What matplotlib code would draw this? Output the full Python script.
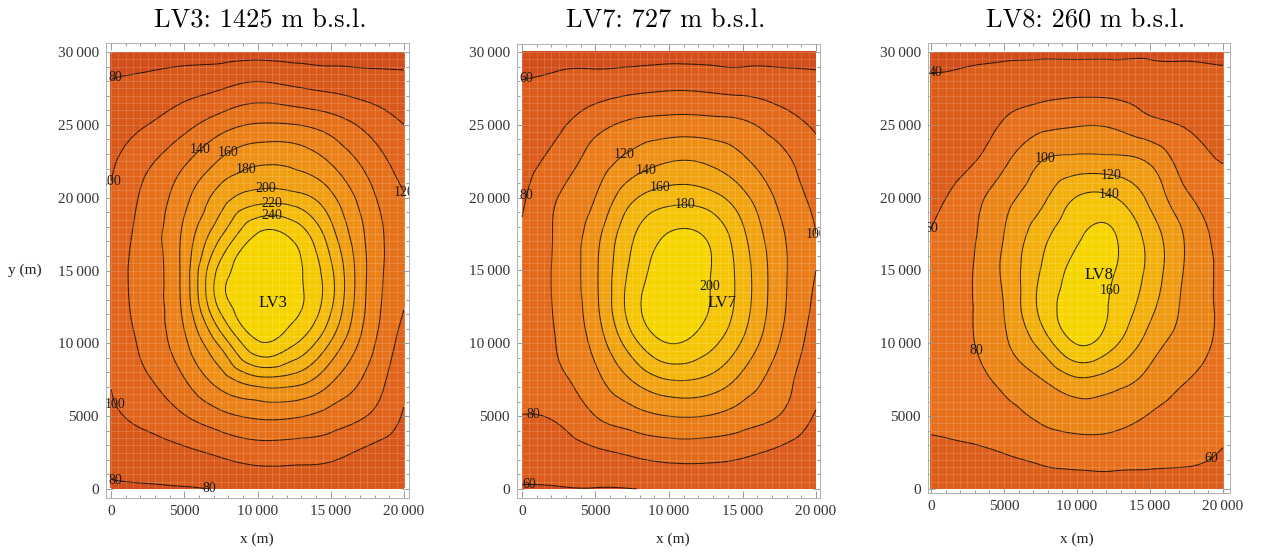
import numpy as np
import matplotlib
matplotlib.use("Agg")
import matplotlib.pyplot as plt
import matplotlib.tri as mtri
from matplotlib.colors import LinearSegmentedColormap

# ---------------- data (temperature fields) -------------
x_m = [0, 2500, 5000, 7500, 10000, 12500, 15000, 17500, 20000]
y_m = [0, 2500, 5000, 7500, 10000, 12500, 15000, 17500, 20000, 22500, 25000, 27500, 30000]

# rows follow y_m (bottom -> top), columns follow x_m
T_LV3 = [
    [77, 78, 79, 81, 84, 85, 84, 82, 81],
    [88, 91.5, 96, 103.5, 109.7, 109, 106, 96, 91],
    [97, 106, 119, 134, 143, 142, 132, 119.6, 98],
    [101, 118.4, 139, 170, 193, 190, 163.6, 135.3, 106],
    [105.5, 125.9, 155.8, 206, 257, 242, 198, 148.9, 112],
    [107, 129.8, 166, 246, 266, 264, 223, 157, 120.5],
    [107.7, 130.7, 168, 248, 267, 265, 224, 159, 125],
    [106, 129.7, 164.7, 217, 261, 254, 208, 156.5, 124],
    [102, 125.6, 153.9, 190.3, 210, 207.9, 185, 147.9, 121],
    [96.6, 116.5, 137, 162.4, 176.5, 174.6, 158.2, 133.4, 111],
    [89, 100, 114, 131.3, 141.6, 140.5, 130.8, 114.9, 100],
    [82, 86.3, 92.5, 99, 106.4, 101.7, 96.4, 91, 86.7],
    [72, 72, 72, 72, 72, 72, 72, 73, 74],
]

T_LV7 = [
    [58.5, 59, 59.5, 59.8, 61, 62, 61, 60.5, 60],
    [69.3, 71.3, 76.6, 83, 88, 88, 84, 76, 68],
    [79.7, 82.8, 100, 111.7, 120, 119.7, 110.2, 99.5, 78],
    [84, 96, 114.7, 141, 160, 156.5, 134.2, 109.8, 88],
    [86, 101.2, 127.1, 172.3, 200, 188.3, 157.7, 120, 92],
    [87, 103.1, 135.3, 190.4, 212, 202, 170, 126.5, 96],
    [86, 103.8, 136.6, 185.6, 209, 203, 170.7, 127.5, 100],
    [82, 103.5, 132.7, 177.2, 201, 198, 164, 124.5, 100],
    [77.2, 100.5, 120.3, 156.2, 171.6, 168.9, 146.2, 116.1, 95],
    [71.9, 88.6, 109.1, 127.5, 139.3, 137.8, 123.5, 106.7, 87],
    [66.6, 76.7, 93.3, 104.5, 108.6, 108.3, 103.9, 90.6, 77.2],
    [61.3, 65, 70.3, 75, 78, 77, 74, 70, 65.5],
    [56, 55, 53, 52, 52, 52, 53, 54, 55],
]

T_LV8 = [
    [52, 52, 52, 52, 52, 52, 52, 52, 53],
    [57.5, 58.2, 60.3, 65.5, 69, 69.1, 66.4, 64.7, 59],
    [62, 65, 72.7, 83.2, 89.8, 87.4, 78.9, 73.4, 66],
    [64, 72, 85.5, 99, 116.8, 109.3, 93.5, 80.5, 70],
    [66, 77, 96.8, 126.3, 161, 144.3, 110.5, 90.9, 75],
    [67, 78, 100.4, 144.3, 170, 156.6, 126, 95, 76],
    [67, 77.3, 103.6, 140.3, 166, 161, 134.1, 97.3, 76],
    [60.7, 74.8, 100, 131.7, 156.8, 161, 131.5, 97.2, 70],
    [56, 69.8, 92.5, 114.4, 141, 141, 115.5, 83.5, 65],
    [51.1, 57, 76, 99.5, 106.5, 106.2, 97.6, 69.9, 59.6],
    [47, 51.2, 61.9, 74.2, 78.8, 77.3, 66, 58.8, 52.4],
    [42.9, 44.7, 49.1, 52.9, 54.3, 53.6, 49.9, 47.9, 45.2],
    [36, 37, 37, 37, 37, 37, 37, 37, 37],
]

titles = ["LV3: 1425 m b.s.l.", "LV7: 727 m b.s.l.", "LV8: 260 m b.s.l."]
well_names = ["LV3", "LV7", "LV8"]
well_x = [11080, 13580, 11500]
well_y = [12750, 12750, 14700]

levels_LV3 = [80, 100, 120, 140, 160, 180, 200, 220, 240, 260]
levels_LV7 = [60, 80, 100, 120, 140, 160, 180, 200]
levels_LV8 = [40, 60, 80, 100, 120, 140, 160]

# (level, x, y) for the in-plot contour labels
label_pos_LV3 = [(80, 300, 28200), (100, 250, 20800), (120, 19900, 20100), (140, 6000, 23500),
                 (160, 8000, 23000), (180, 9200, 22000), (200, 10500, 20800),
                 (220, 11000, 19300), (240, 11000, 18000), (100, 300, 5800),
                 (80, 300, 400), (80, 7300, 100)]
label_pos_LV7 = [(60, 300, 28100), (80, 800, 20000), (120, 7000, 22900), (140, 8500, 21800),
                 (160, 9400, 20600), (180, 11100, 19300), (200, 13000, 13900),
                 (100, 19800, 17200), (80, 800, 5100), (60, 500, 200)]
label_pos_LV8 = [(40, 300, 29300), (60, 200, 17100), (100, 7900, 22400), (120, 12400, 21500),
                 (140, 12200, 20000), (160, 12800, 13500), (80, 2400, 9300),
                 (60, 19600, 1500)]

xtick_vals = [0, 5000, 10000, 15000, 20000]
xtick_labels = ["0", "5000", "10\u2009000", "15\u2009000", "20\u2009000"]
ytick_vals = [0, 5000, 10000, 15000, 20000, 25000, 30000]
ytick_labels = ["0", "5000", "10\u2009000", "15\u2009000", "20\u2009000", "25\u2009000", "30\u2009000"]

# ---------------- style -------------
cmap = LinearSegmentedColormap.from_list(
    "sunset", [(0.0, "#d24e1a"), (0.25, "#e46a1c"), (0.5, "#ef9016"),
               (0.75, "#f4b60c"), (1.0, "#f7d600")])
serif = ["Liberation Serif", "DejaVu Serif"]

fig = plt.figure(figsize=(12.63, 5.54), dpi=100)
W, H = 1263.0, 554.0

frames = [(106, 43, 409, 498), (517, 44, 820, 498), (928, 43, 1230, 493)]
xlims = [(-341, 20341), (-340, 20272), (-205, 20479)]
ylims = [(-618, 30618), (-618, 30549), (-275, 30618)]
title_cx = [260, 666, 1086]
xlabel_cx = [257, 673, 1077]

fields = [T_LV3, T_LV7, T_LV8]
all_levels = [levels_LV3, levels_LV7, levels_LV8]
all_labels = [label_pos_LV3, label_pos_LV7, label_pos_LV8]

X, Y = np.meshgrid(np.array(x_m, float), np.array(y_m, float))
tri = mtri.Triangulation(X.ravel(), Y.ravel())
refiner = mtri.UniformTriRefiner(tri)

for i in range(3):
    l, t, r, b = frames[i]
    ax = fig.add_axes([l / W, 1 - b / H, (r - l) / W, (b - t) / H])
    Z = np.array(fields[i], float).ravel()
    interp = mtri.CubicTriInterpolator(tri, Z, kind="min_E")
    tri_f, z_f = refiner.refine_field(Z, triinterpolator=interp, subdiv=4)

    lv = all_levels[i]
    fill_levels = [-1000] + lv + [1000]
    nb = len(fill_levels) - 1
    band_colors = [cmap(k / (nb - 1)) for k in range(nb)]
    ax.tricontourf(tri_f, z_f, levels=fill_levels, colors=band_colors, zorder=1)
    cs = ax.tricontour(tri_f, z_f, levels=lv, colors="k", linewidths=0.75,
                       alpha=0.8, zorder=2)

    # horizontal labels sitting on the lines (nearest point on the given level)
    paths = cs.get_paths()
    for (lev, px, py) in all_labels[i]:
        k = lv.index(lev)
        v = paths[k].vertices
        if len(v):
            d = (v[:, 0] - px) ** 2 + (v[:, 1] - py) ** 2
            bx, by = v[int(np.argmin(d))]
        else:
            bx, by = px, py
        ax.text(bx, by, str(lev), fontsize=10, fontfamily=serif,
                ha="center", va="center", zorder=4, color="#1a1a1a", clip_on=True)

    mesh = np.arange(0, 20001, 500)
    ax.vlines(mesh, 0, 30000, colors="white", linewidths=0.5, alpha=0.2, zorder=3)
    ax.hlines(np.arange(0, 30001, 500), 0, 20000, colors="white", linewidths=0.5,
              alpha=0.2, zorder=3)

    ax.text(well_x[i], well_y[i], well_names[i], fontsize=12, fontfamily=serif,
            ha="center", va="center", zorder=4, color="#111")

    ax.set_xlim(*xlims[i])
    ax.set_ylim(*ylims[i])
    ax.set_xticks(xtick_vals)
    ax.set_xticklabels(xtick_labels)
    ax.set_yticks(ytick_vals)
    ax.set_yticklabels(ytick_labels)
    ax.set_xticks(np.arange(0, 20001, 1000), minor=True)
    ax.set_yticks(np.arange(0, 30001, 1000), minor=True)
    ax.tick_params(which="both", direction="in", top=True, right=True,
                   color="#888888", width=0.6)
    ax.tick_params(which="major", length=5, labelsize=11, labelcolor="#333333", pad=5)
    ax.tick_params(which="minor", length=2.5)
    for tl in ax.get_xticklabels() + ax.get_yticklabels():
        tl.set_fontfamily(serif)
    for sp in ax.spines.values():
        sp.set_color("#b0b0b0")
        sp.set_linewidth(0.7)

    fig.text(title_cx[i] / W, 1 - 21 / H, titles[i], fontfamily="cmr10", fontsize=19,
             ha="center", va="center")
    fig.text(xlabel_cx[i] / W, 1 - 539 / H, "x (m)", fontfamily=serif, fontsize=11,
             ha="center", va="center", color="#222")

fig.text(25 / W, 1 - 270 / H, "y (m)", fontfamily=serif, fontsize=11,
         ha="center", va="center", color="#222")

fig.savefig("out.png", dpi=100)
